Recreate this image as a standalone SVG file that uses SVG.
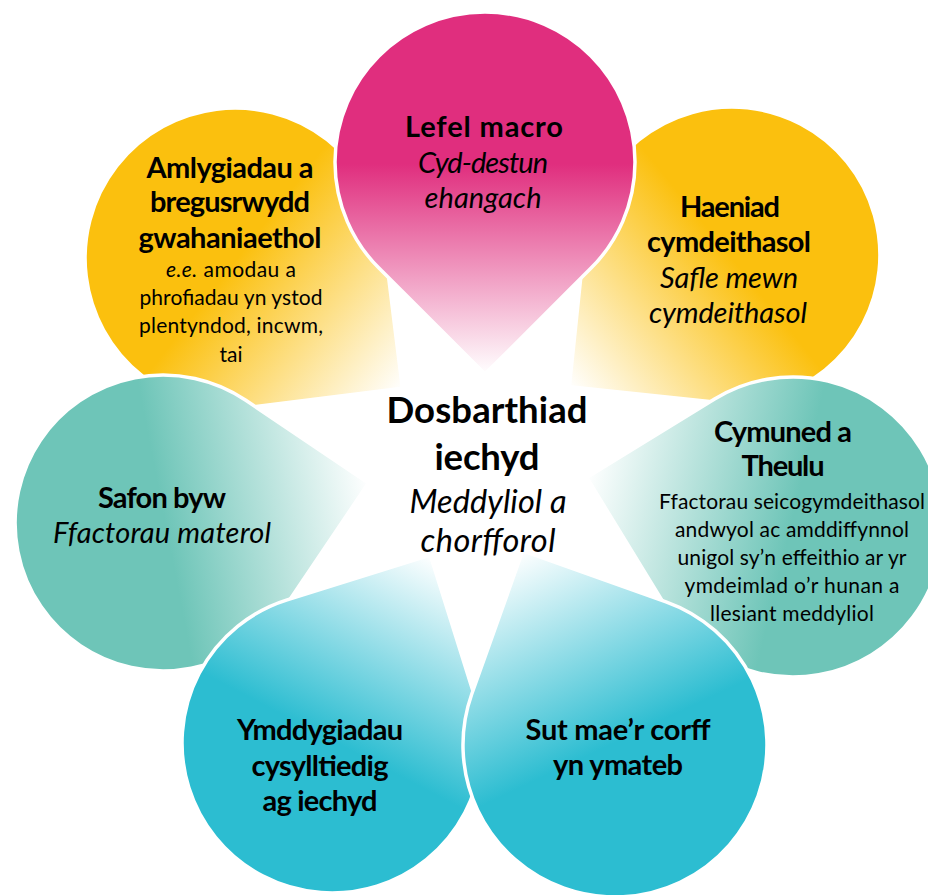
<svg xmlns="http://www.w3.org/2000/svg" width="928" height="895" viewBox="0 0 928 895">
<style>
text{font-family:Lato,"Open Sans","Liberation Sans",sans-serif;fill:#000;text-anchor:middle}
.h{font-weight:700;font-size:29px}
.i{font-style:italic;font-size:29px}
.b{font-size:21px}
.t{font-weight:700;font-size:36.5px}
.ti{font-style:italic;font-size:32.5px}
.petal{stroke:#fff;stroke-width:3.5}
</style>
<defs>
<linearGradient id="gM" x1="0" y1="0" x2="1" y2="0"><stop offset="0" stop-color="#E02E7E"/><stop offset="0.42" stop-color="#E02E7E"/><stop offset="1" stop-color="#fff"/></linearGradient>
<linearGradient id="gY" x1="0" y1="0" x2="1" y2="0"><stop offset="0" stop-color="#FBC00E"/><stop offset="0.42" stop-color="#FBC00E"/><stop offset="1" stop-color="#fff"/></linearGradient>
<linearGradient id="gT" x1="0" y1="0" x2="1" y2="0"><stop offset="0" stop-color="#6EC5B8"/><stop offset="0.42" stop-color="#6EC5B8"/><stop offset="1" stop-color="#fff"/></linearGradient>
<linearGradient id="gB" x1="0" y1="0" x2="1" y2="0"><stop offset="0" stop-color="#2CBDD1"/><stop offset="0.42" stop-color="#2CBDD1"/><stop offset="1" stop-color="#fff"/></linearGradient>
</defs>
<rect width="928" height="895" fill="#fff"/>

<g id="amlygiadau">
<path class="petal" fill="url(#gY)" transform="translate(235,258) rotate(37.9)" d="M212.1,0 L106.1,106.1 A150,150 0 1 1 106.1,-106.1 Z"/>
<text class="h" x="230" y="178" textLength="167" lengthAdjust="spacing">Amlygiadau a</text>
<text class="h" x="230" y="212" textLength="160" lengthAdjust="spacing">bregusrwydd</text>
<text class="h" x="230" y="248" textLength="183" lengthAdjust="spacing">gwahaniaethol</text>
<text class="b" x="231" y="277" textLength="130" lengthAdjust="spacing"><tspan font-style="italic">e.e.</tspan> amodau a</text>
<text class="b" x="231" y="305" textLength="183" lengthAdjust="spacing">phrofiadau yn ystod</text>
<text class="b" x="231" y="333" textLength="184" lengthAdjust="spacing">plentyndod, incwm,</text>
<text class="b" x="231" y="362">tai</text>
</g>

<g id="haeniad">
<path class="petal" fill="url(#gY)" transform="translate(732,255) rotate(141)" d="M209.3,0 L104.7,104.7 A148,148 0 1 1 104.7,-104.7 Z"/>
<text class="h" x="730" y="217" textLength="100" lengthAdjust="spacing">Haeniad</text>
<text class="h" x="729" y="252" textLength="164" lengthAdjust="spacing">cymdeithasol</text>
<text class="i" x="729" y="288" textLength="138" lengthAdjust="spacing">Safle mewn</text>
<text class="i" x="728" y="323" textLength="158" lengthAdjust="spacing">cymdeithasol</text>
</g>

<g id="safon">
<path class="petal" fill="url(#gT)" transform="translate(163,523) rotate(-11)" d="M209.3,0 L104.7,104.7 A148,148 0 1 1 104.7,-104.7 Z"/>
<text class="h" x="162" y="508" textLength="128" lengthAdjust="spacing">Safon byw</text>
<text class="i" x="162" y="543" textLength="218" lengthAdjust="spacing">Ffactorau materol</text>
</g>

<g id="cymuned">
<path class="petal" fill="url(#gT)" transform="translate(793,527) rotate(193.5)" d="M212.1,0 L106.1,106.1 A150,150 0 1 1 106.1,-106.1 Z"/>
<text class="h" x="783" y="442" textLength="138" lengthAdjust="spacing">Cymuned a</text>
<text class="h" x="783" y="476" textLength="83" lengthAdjust="spacing">Theulu</text>
<text class="b" x="792" y="509" textLength="266" lengthAdjust="spacing">Ffactorau seicogymdeithasol</text>
<text class="b" x="792" y="537" textLength="234" lengthAdjust="spacing">andwyol ac amddiffynnol</text>
<text class="b" x="792" y="565" textLength="229" lengthAdjust="spacing">unigol sy’n effeithio ar yr</text>
<text class="b" x="792" y="593" textLength="215" lengthAdjust="spacing">ymdeimlad o’r hunan a</text>
<text class="b" x="792" y="621" textLength="164" lengthAdjust="spacing">llesiant meddyliol</text>
</g>

<g id="ymddygiadau">
<path class="petal" fill="url(#gB)" transform="translate(332,743) rotate(-62.4)" d="M212.1,0 L106.1,106.1 A150,150 0 1 1 106.1,-106.1 Z"/>
<text class="h" x="320" y="740" textLength="166" lengthAdjust="spacing">Ymddygiadau</text>
<text class="h" x="320" y="776" textLength="137" lengthAdjust="spacing">cysylltiedig</text>
<text class="h" x="320" y="811" textLength="115" lengthAdjust="spacing">ag iechyd</text>
</g>

<g id="sut-mae">
<path class="petal" fill="url(#gB)" transform="translate(615,745) rotate(244.6)" d="M215,0 L107.5,107.5 A152,152 0 1 1 107.5,-107.5 Z"/>
<text class="h" x="618" y="740" textLength="185" lengthAdjust="spacing">Sut mae’r corff</text>
<text class="h" x="618" y="775" textLength="130" lengthAdjust="spacing">yn ymateb</text>
</g>

<g id="lefel-macro">
<path class="petal" fill="url(#gM)" transform="translate(485,162) rotate(90)" d="M212.1,0 L106.1,106.1 A150,150 0 1 1 106.1,-106.1 Z"/>
<text class="h" x="484" y="137" textLength="158" lengthAdjust="spacing">Lefel macro</text>
<text class="i" x="483" y="173" textLength="130" lengthAdjust="spacing">Cyd-destun</text>
<text class="i" x="483" y="208" textLength="117" lengthAdjust="spacing">ehangach</text>
</g>

<g id="canol">
<text class="t" x="487" y="423" textLength="201" lengthAdjust="spacing">Dosbarthiad</text>
<text class="t" x="487" y="470" textLength="105" lengthAdjust="spacing">iechyd</text>
<text class="ti" x="488" y="513" textLength="157" lengthAdjust="spacing">Meddyliol a</text>
<text class="ti" x="488" y="552" textLength="135" lengthAdjust="spacing">chorfforol</text>
</g>

<g id="connectors"/>
</svg>
